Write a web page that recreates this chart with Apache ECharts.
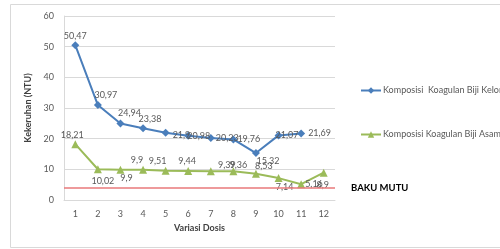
<!DOCTYPE html>
<html><head><meta charset="utf-8">
<script src="https://cdn.jsdelivr.net/npm/echarts@6/dist/echarts.min.js"></script>
<style>html,body{margin:0;padding:0;background:#fff}#c{width:500px;height:249px}</style>
</head><body><div id="c"></div>
<script>
const categories = ['1','2','3','4','5','6','7','8','9','10','11','12'];
const kelorName = 'Komposisi  Koagulan Biji Kelor';
const asamName = 'Komposisi Koagulan Biji Asam Jawa';
const kelor = [50.47, 30.97, 24.94, 23.38, 21.9, 20.98, 20.23, 19.76, 15.32, 21.07, 21.69, null];
const asam = [18.21, 10.02, 9.9, 9.9, 9.51, 9.44, 9.39, 9.36, 8.53, 7.14, 5.16, 8.9];
const bakuMutu = 4;
const yTicks = [0, 10, 20, 30, 40, 50, 60];

// label placement (style only)
const kelorLbl = [
  ['top', [0, 2]], ['top', [8, 2]], ['top', [9, 1]], ['top', [7, 2]],
  ['right', [0, 2]], ['right', [-8, 0]], ['right', [-2, 0]], ['right', [-3, 0]],
  ['bottom', [12, -3]], ['right', [-10, 0]], ['right', [0, 0]], ['right', [0, 0]]
];
const asamLbl = [
  ['top', [-3, 2]], ['bottom', [5, 0]], ['bottom', [6, -3]], ['top', [-6, 2]],
  ['top', [-8, 2]], ['top', [-1, 2]], ['top', [16, 5]], ['top', [5, 5]],
  ['top', [8, 4]], ['bottom', [6, -3]], ['right', [-3, 0]], ['bottom', [-1, 1]]
];
const fmt = v => String(v).replace('.', ',');
const mk = (arr, lbl) => arr.map((v, i) => ({
  value: v,
  label: { position: lbl[i][0], offset: lbl[i][1] }
}));

const FONT = 'Lato';
const chart = echarts.init(document.getElementById('c'), null, {renderer: 'canvas'});
chart.setOption({
  animation: false,
  textStyle: { fontFamily: FONT },
  graphic: [{
    type: 'rect', shape: { x: 10.5, y: 4.5, width: 500, height: 243 },
    style: { fill: 'none', stroke: '#d9d9d9', lineWidth: 1 }, silent: true
  }],
  grid: { left: 64, right: 165, top: 16, bottom: 49 },
  legend: {
    orient: 'vertical', left: 355, top: 81, itemGap: 35,
    itemWidth: 20, itemHeight: 8,
    textStyle: { fontFamily: FONT, fontSize: 9, color: '#595959', padding: [0, 0, 0, -3] },
    data: [kelorName, asamName]
  },
  xAxis: {
    type: 'category', data: categories, boundaryGap: true,
    name: 'Variasi Dosis', nameLocation: 'middle', nameGap: 22,
    nameTextStyle: { fontFamily: FONT, fontSize: 9, fontWeight: 'bold', color: '#404040' },
    axisLine: { lineStyle: { color: '#d9d9d9' } },
    axisTick: { show: false },
    axisLabel: { fontSize: 9, color: '#595959', margin: 10 }
  },
  yAxis: {
    type: 'value', min: 0, max: 60, interval: 10,
    name: 'Kekeruhan (NTU)', nameLocation: 'middle', nameGap: 26,
    nameTextStyle: { fontFamily: FONT, fontSize: 9, fontWeight: 'bold', color: '#404040' },
    axisLine: { show: true, lineStyle: { color: '#d9d9d9' } },
    axisTick: { show: false },
    axisLabel: { fontSize: 9, color: '#595959', margin: 10,
      formatter: v => yTicks.includes(v) ? String(v) : '' },
    splitLine: { lineStyle: { color: '#d9d9d9' } }
  },
  series: [
    {
      name: kelorName, type: 'line', data: mk(kelor, kelorLbl),
      symbol: 'diamond', symbolSize: 8,
      itemStyle: { color: '#4a7ebb' }, lineStyle: { color: '#4a7ebb', width: 2 },
      label: { show: true, fontSize: 9, color: '#595959', distance: 3,
        formatter: p => fmt(p.value) },
      markLine: {
        silent: true, symbol: 'none',
        lineStyle: { color: '#e8787a', type: 'solid', width: 1.5 },
        label: { show: true, position: 'end', formatter: 'BAKU MUTU', distance: 16,
          fontFamily: FONT, fontSize: 9.5, fontWeight: 'bold', color: '#000' },
        data: [{ yAxis: bakuMutu }]
      }
    },
    {
      name: asamName, type: 'line', data: mk(asam, asamLbl),
      symbol: 'triangle', symbolSize: 8,
      itemStyle: { color: '#9bbb59' }, lineStyle: { color: '#9bbb59', width: 2 },
      label: { show: true, fontSize: 9, color: '#595959', distance: 3,
        formatter: p => fmt(p.value) }
    }
  ]
});
</script></body></html>
